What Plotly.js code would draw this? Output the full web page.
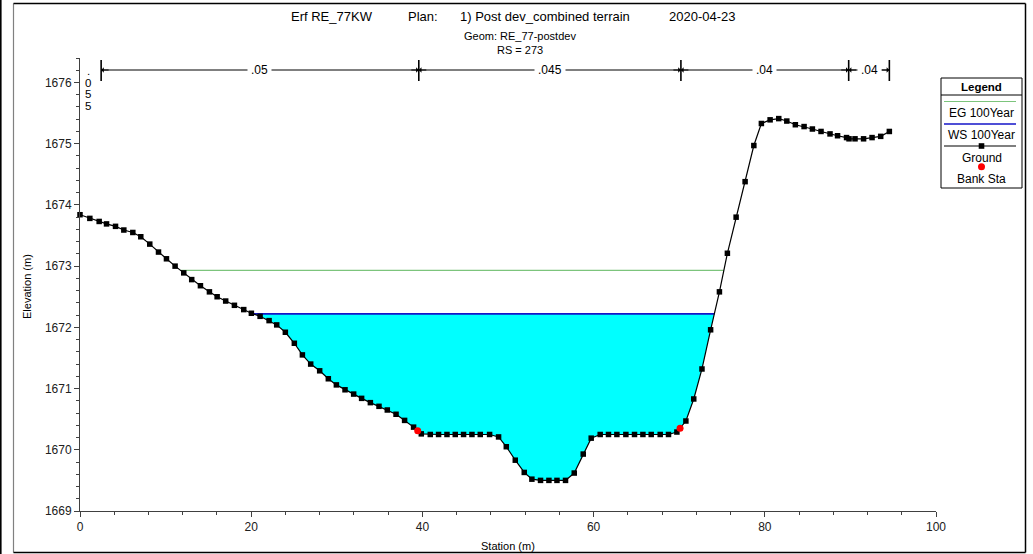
<!DOCTYPE html>
<html>
<head>
<meta charset="utf-8">
<script src="https://cdn.plot.ly/plotly-3.0.1.min.js"></script>
<style>
  html, body { margin: 0; padding: 0; background: #ffffff; }
  #chart { width: 1033px; height: 554px; }
</style>
</head>
<body>
<div id="chart"></div>
<script>
// Ground survey points of the cross section (station m, elevation m)
const station = [
  0, 1.15, 2.24, 3.10, 4.15, 5.12, 6.17, 7.10, 8.15, 9.17,
  10.10, 11.11, 12.12, 13.05, 14.07, 15.12, 16.02, 17.02, 18.04, 19.13,
  20.02, 21.04, 22.09, 22.98, 23.99, 25.04, 25.98, 26.95, 28.00, 29.01,
  29.95, 30.96, 31.97, 32.90, 33.92, 34.93, 35.90, 36.92, 37.92, 38.97,
  39.87, 40.92, 41.89, 42.87, 43.84, 44.81, 45.79, 46.76, 47.85, 48.90,
  49.80, 50.85, 51.90, 52.79, 53.80, 54.78, 55.72, 56.72, 57.74, 58.79,
  59.72, 60.77, 61.74, 62.72, 63.77, 64.78, 65.76, 66.73, 67.78, 68.75,
  69.73, 70.78, 71.70, 72.66, 73.67, 74.70, 75.63, 76.65, 77.70, 78.72,
  79.60, 80.62, 81.63, 82.57, 83.57, 84.59, 85.56, 86.57, 87.62, 88.50,
  89.55, 89.84, 90.54, 91.54, 92.53, 93.54, 94.55
];
const elevation = [
  1673.84, 1673.78, 1673.73, 1673.69, 1673.65, 1673.59, 1673.55, 1673.48, 1673.36, 1673.23,
  1673.12, 1673.00, 1672.89, 1672.78, 1672.68, 1672.58, 1672.50, 1672.43, 1672.36, 1672.29,
  1672.23, 1672.18, 1672.11, 1672.04, 1671.92, 1671.74, 1671.55, 1671.40, 1671.29, 1671.16,
  1671.06, 1670.98, 1670.91, 1670.84, 1670.77, 1670.71, 1670.65, 1670.58, 1670.48, 1670.37,
  1670.26, 1670.25, 1670.25, 1670.25, 1670.25, 1670.25, 1670.25, 1670.25, 1670.25, 1670.21,
  1670.05, 1669.83, 1669.63, 1669.52, 1669.50, 1669.50, 1669.50, 1669.50, 1669.62, 1669.93,
  1670.19, 1670.25, 1670.25, 1670.25, 1670.25, 1670.25, 1670.25, 1670.25, 1670.25, 1670.25,
  1670.29, 1670.47, 1670.83, 1671.32, 1671.96, 1672.58, 1673.21, 1673.80, 1674.38, 1674.97,
  1675.33, 1675.39, 1675.41, 1675.37, 1675.31, 1675.28, 1675.24, 1675.20, 1675.16, 1675.13,
  1675.10, 1675.08, 1675.08, 1675.08, 1675.10, 1675.12, 1675.20
];

// Bank stations (m)
const bankStations = [39.45, 70.10];

// 100-year profile levels (m)
const wsElevation = 1672.22;
const egElevation = 1672.93;

// Manning's n zones: break stations and values
const nBreaks = [0, 2.47, 39.58, 70.20, 89.80, 94.55];
const nValues = ['.055', '.05', '.045', '.04', '.04'];

// Header text
const headerParts = ['Erf RE_77KW', 'Plan:', '1) Post dev_combined terrain', '2020-04-23'];
const geomLine = 'Geom: RE_77-postdev';
const rsLine = 'RS = 273';

// Legend entries
const legendTitle = 'Legend';
const legendLabels = ['EG 100Year', 'WS 100Year', 'Ground', 'Bank Sta'];

// Axis titles
const xTitle = 'Station (m)';
const yTitle = 'Elevation (m)';

// ---------- geometry helpers ----------
const W = 1033, H = 554, ML = 80, MR = 97, MT = 58, MB = 43;
const PW = W - ML - MR, PH = H - MT - MB;
const px = x => (x - ML) / PW;          // pixel -> paper x
const py = y => (H - MB - y) / PH;      // pixel -> paper y

function groundAt(s) {
  for (let i = 0; i < station.length - 1; i++) {
    if (s >= station[i] && s <= station[i + 1]) {
      const t = (s - station[i]) / (station[i + 1] - station[i]);
      return elevation[i] + t * (elevation[i + 1] - elevation[i]);
    }
  }
  return elevation[elevation.length - 1];
}

// Where a level meets the ground on each side of the lowest point
function levelExtent(level) {
  let imin = 0;
  elevation.forEach((e, i) => { if (e < elevation[imin]) imin = i; });
  let li = imin;
  while (li > 0 && elevation[li - 1] < level) li--;
  let ri = imin;
  while (ri < elevation.length - 1 && elevation[ri + 1] < level) ri++;
  const cross = (a, b) => station[a] + (level - elevation[a]) * (station[b] - station[a]) / (elevation[b] - elevation[a]);
  const left = li > 0 ? cross(li - 1, li) : station[0];
  const right = ri < elevation.length - 1 ? cross(ri, ri + 1) : station[station.length - 1];
  return { left, right, li, ri };
}

const ws = levelExtent(wsElevation);
const eg = levelExtent(egElevation);

// Water area polygon: water surface above, ground below
const waterX = [ws.left], waterY = [wsElevation];
for (let i = ws.li; i <= ws.ri; i++) { waterX.push(station[i]); waterY.push(elevation[i]); }
waterX.push(ws.right, ws.left); waterY.push(wsElevation, wsElevation);

const traces = [
  { x: waterX, y: waterY, type: 'scatter', mode: 'lines', fill: 'toself',
    fillcolor: '#00FFFF', line: { width: 0, color: '#00FFFF' }, hoverinfo: 'skip', showlegend: false },
  { x: [eg.left, eg.right], y: [egElevation, egElevation], type: 'scatter', mode: 'lines',
    line: { color: '#7CC47C', width: 1.2 }, name: legendLabels[0], showlegend: false },
  { x: [ws.left, ws.right], y: [wsElevation, wsElevation], type: 'scatter', mode: 'lines',
    line: { color: '#1414C8', width: 1.6 }, name: legendLabels[1], showlegend: false },
  { x: station, y: elevation, type: 'scatter', mode: 'lines+markers',
    line: { color: '#000000', width: 1.2 },
    marker: { symbol: 'square', size: 5.5, color: '#000000' },
    name: legendLabels[2], showlegend: false, cliponaxis: false },
  { x: bankStations, y: bankStations.map(groundAt), type: 'scatter', mode: 'markers',
    marker: { symbol: 'circle', size: 7, color: '#FF0000' },
    name: legendLabels[3], showlegend: false, cliponaxis: false }
];

const FONT = 'Liberation Sans, Arial, sans-serif';
const shapes = [];
const annotations = [];

// Outer frame: dark edge on the far left, grey inner left rule, black top/right/bottom
shapes.push({ type: 'line', xref: 'paper', yref: 'paper', x0: px(0.8), x1: px(0.8),
  y0: py(554), y1: py(0), line: { color: '#000000', width: 1.6 } });
shapes.push({ type: 'line', xref: 'paper', yref: 'paper', x0: px(13.5), x1: px(13.5),
  y0: py(552.5), y1: py(3.5), line: { color: '#808080', width: 1.2 } });
shapes.push({ type: 'line', xref: 'paper', yref: 'paper', x0: px(13.5), x1: px(1025.5),
  y0: py(3.5), y1: py(3.5), line: { color: '#000000', width: 1.5 } });
shapes.push({ type: 'line', xref: 'paper', yref: 'paper', x0: px(13.5), x1: px(1025.5),
  y0: py(552.5), y1: py(552.5), line: { color: '#000000', width: 1.5 } });
shapes.push({ type: 'line', xref: 'paper', yref: 'paper', x0: px(1025.5), x1: px(1025.5),
  y0: py(552.5), y1: py(3.5), line: { color: '#000000', width: 1.5 } });

// Header lines
const headerLeft = [289, 406, 458, 667];
headerParts.forEach((t, i) => annotations.push({
  text: t, xref: 'paper', yref: 'paper', x: px(headerLeft[i]), y: py(17),
  xanchor: 'left', yanchor: 'middle', showarrow: false,
  font: { family: FONT, size: 13, color: '#000000' } }));
annotations.push({ text: geomLine, xref: 'paper', yref: 'paper', x: px(520), y: py(36),
  xanchor: 'center', yanchor: 'middle', showarrow: false,
  font: { family: FONT, size: 11, color: '#000000' } });
annotations.push({ text: rsLine, xref: 'paper', yref: 'paper', x: px(520), y: py(50),
  xanchor: 'center', yanchor: 'middle', showarrow: false,
  font: { family: FONT, size: 11, color: '#000000' } });

// Manning's n zone markers along the top of the plot
const nY = py(70);
for (let k = 1; k < nBreaks.length; k++) {
  shapes.push({ type: 'line', xref: 'x', yref: 'paper', x0: nBreaks[k], x1: nBreaks[k],
    y0: py(81), y1: py(60), line: { color: '#000000', width: 1.6 } });
}
nValues.forEach((label, k) => {
  const a = nBreaks[k], b = nBreaks[k + 1], mid = (a + b) / 2;
  if (k === 0) {
    // zone too narrow: write the value vertically, one character per line
    label.split('').forEach((ch, j) => annotations.push({
      text: ch, xref: 'x', yref: 'paper', x: mid - 0.25, y: py(71 + j * 11.5),
      xanchor: 'center', yanchor: 'middle', showarrow: false,
      font: { family: FONT, size: 11.5, color: '#000000' } }));
    return;
  }
  shapes.push({ type: 'line', xref: 'x', yref: 'paper', x0: a, x1: b, y0: nY, y1: nY,
    line: { color: '#000000', width: 1 } });
  [a, b].forEach((end, s) => annotations.push({
    text: '', xref: 'x', yref: 'paper', x: end, y: nY, ax: s === 0 ? 9 : -9, ay: 0,
    showarrow: true, arrowhead: 1, arrowsize: 0.9, arrowwidth: 1, arrowcolor: '#000000' }));
  annotations.push({ text: label, xref: 'x', yref: 'paper', x: mid, y: nY,
    xanchor: 'center', yanchor: 'middle', showarrow: false, bgcolor: '#ffffff', borderpad: 3,
    font: { family: FONT, size: 12, color: '#000000' } });
});

// Legend box
const LX0 = 941, LX1 = 1022, LC = (LX0 + LX1) / 2;
shapes.push({ type: 'rect', xref: 'paper', yref: 'paper', x0: px(LX0), x1: px(LX1),
  y0: py(188), y1: py(78), line: { color: '#000000', width: 1 }, fillcolor: '#ffffff' });
shapes.push({ type: 'line', xref: 'paper', yref: 'paper', x0: px(LX0), x1: px(LX1),
  y0: py(95), y1: py(95), line: { color: '#000000', width: 1 } });
annotations.push({ text: '<b>' + legendTitle + '</b>', xref: 'paper', yref: 'paper',
  x: px(LC), y: py(86.5), xanchor: 'center', yanchor: 'middle', showarrow: false,
  font: { family: FONT, size: 11.5, color: '#000000' } });
shapes.push({ type: 'line', xref: 'paper', yref: 'paper', x0: px(944), x1: px(1016),
  y0: py(101.5), y1: py(101.5), line: { color: '#7CC47C', width: 1.2 } });
shapes.push({ type: 'line', xref: 'paper', yref: 'paper', x0: px(944), x1: px(1016),
  y0: py(124), y1: py(124), line: { color: '#1414C8', width: 1.4 } });
shapes.push({ type: 'line', xref: 'paper', yref: 'paper', x0: px(944), x1: px(1016),
  y0: py(146), y1: py(146), line: { color: '#000000', width: 1.2 } });
shapes.push({ type: 'rect', xref: 'paper', yref: 'paper', x0: px(LC - 2.8), x1: px(LC + 2.8),
  y0: py(148.8), y1: py(143.2), line: { width: 0 }, fillcolor: '#000000' });
shapes.push({ type: 'circle', xref: 'paper', yref: 'paper', x0: px(LC - 3.5), x1: px(LC + 3.5),
  y0: py(170.2), y1: py(163.2), line: { width: 0 }, fillcolor: '#FF0000' });
const legendTextY = [113.5, 134.5, 157.5, 179];
legendLabels.forEach((t, i) => annotations.push({
  text: t, xref: 'paper', yref: 'paper', x: px(LC), y: py(legendTextY[i]),
  xanchor: 'center', yanchor: 'middle', showarrow: false,
  font: { family: FONT, size: 12, color: '#000000' } }));

// Axis titles
annotations.push({ text: xTitle, xref: 'paper', yref: 'paper', x: 0.5, y: py(546),
  xanchor: 'center', yanchor: 'middle', showarrow: false,
  font: { family: FONT, size: 11, color: '#000000' } });
annotations.push({ text: yTitle, xref: 'paper', yref: 'paper', x: px(27), y: py(287),
  xanchor: 'center', yanchor: 'middle', showarrow: false, textangle: -90,
  font: { family: FONT, size: 11, color: '#000000' } });

const axisCommon = {
  showgrid: false, zeroline: false, showline: true, linecolor: '#404040', linewidth: 1,
  ticks: 'outside', ticklen: 5, tickwidth: 1, tickcolor: '#404040',
  tickfont: { family: FONT, size: 12, color: '#202020' }, fixedrange: true
};

const layout = {
  width: W, height: H,
  margin: { l: ML, r: MR, t: MT, b: MB, pad: 0 },
  paper_bgcolor: '#ffffff', plot_bgcolor: '#ffffff',
  showlegend: false,
  xaxis: Object.assign({}, axisCommon, {
    range: [0, 100], dtick: 20, tick0: 0,
    minor: { dtick: 4, ticks: 'outside', ticklen: 3, tickcolor: '#404040', showgrid: false }
  }),
  yaxis: Object.assign({}, axisCommon, {
    range: [1669, 1676.4], dtick: 1, tick0: 1669,
    minor: { dtick: 0.2, ticks: 'outside', ticklen: 3, tickcolor: '#404040', showgrid: false }
  }),
  shapes: shapes,
  annotations: annotations
};

Plotly.newPlot('chart', traces, layout, { displayModeBar: false, staticPlot: true });
</script>
</body>
</html>
